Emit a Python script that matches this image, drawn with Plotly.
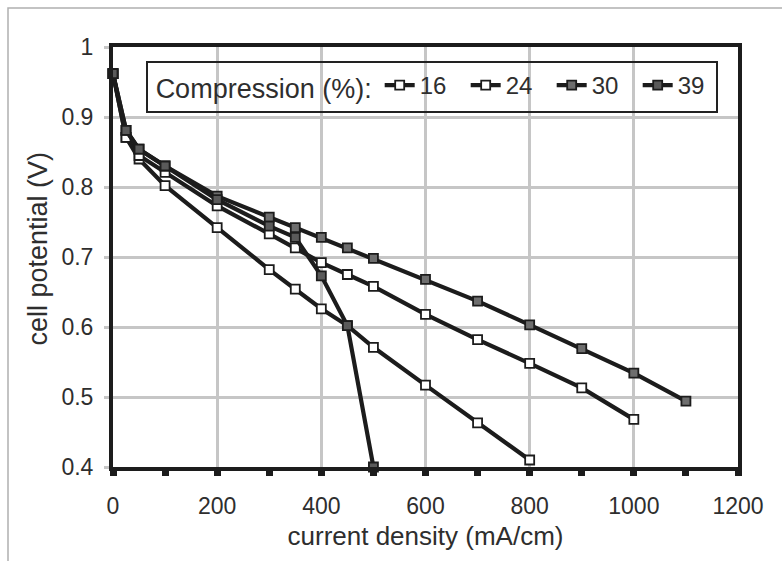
import plotly.graph_objects as go

# Current density (mA/cm) at which each cell potential was recorded
current_16 = [0, 25, 50, 100, 200, 300, 350, 400, 450, 500, 600, 700, 800]
potential_16 = [0.962, 0.871, 0.840, 0.802, 0.742, 0.682, 0.654, 0.626, 0.602, 0.571, 0.517, 0.463, 0.41]

current_24 = [0, 25, 50, 100, 200, 300, 350, 400, 450, 500, 600, 700, 800, 900, 1000]
potential_24 = [0.962, 0.871, 0.845, 0.821, 0.773, 0.733, 0.713, 0.692, 0.675, 0.658, 0.618, 0.582, 0.548, 0.513, 0.468]

current_30 = [0, 25, 50, 100, 200, 300, 350, 400, 450, 500, 600, 700, 800, 900, 1000, 1100]
potential_30 = [0.962, 0.881, 0.854, 0.830, 0.787, 0.757, 0.742, 0.728, 0.713, 0.698, 0.668, 0.637, 0.603, 0.569, 0.534, 0.494]

current_39 = [0, 25, 50, 100, 200, 300, 350, 400, 450, 500]
potential_39 = [0.962, 0.881, 0.854, 0.830, 0.782, 0.744, 0.728, 0.673, 0.602, 0.40]

compression_labels = ["16", "24", "30", "39"]
x_ticks = [0, 200, 400, 600, 800, 1000, 1200]
y_ticks = [0.4, 0.5, 0.6, 0.7, 0.8, 0.9, 1.0]
y_tick_text = ["0.4", "0.5", "0.6", "0.7", "0.8", "0.9", "1"]

LINE = "#1c1c1c"
TEXT = "#2e2e2e"
FONT = "Liberation Sans, Arial, sans-serif"

series = [
    (current_16, potential_16, "white"),
    (current_24, potential_24, "white"),
    (current_30, potential_30, "#6e6e6e"),
    (current_39, potential_39, "#5a5a5a"),
]

fig = go.Figure()
for (xs, ys, fill), name in zip(series, compression_labels):
    fig.add_trace(go.Scatter(
        x=xs, y=ys, name=name, mode="lines+markers",
        line=dict(color=LINE, width=4.2),
        marker=dict(symbol="square", size=9, color=fill,
                    line=dict(color=LINE, width=1.8)),
        cliponaxis=False,
    ))

fig.update_layout(
    width=782, height=561,
    margin=dict(l=113, r=44, t=47, b=94),
    paper_bgcolor="white", plot_bgcolor="white",
    font=dict(family=FONT, size=23, color=TEXT),
    showlegend=True,
    legend=dict(
        orientation="h", x=0.065, y=0.962, xanchor="left", yanchor="top",
        bgcolor="rgba(0,0,0,0)", borderwidth=0,
        title=dict(text="Compression (%):", side="left",
                   font=dict(size=27, color=TEXT)),
        font=dict(size=24, color=TEXT),
        itemwidth=30, tracegroupgap=0,
        entrywidth=41, entrywidthmode="pixels",
    ),
    shapes=[
        # legend frame
        dict(type="rect", xref="paper", yref="paper",
             x0=0.0544, x1=0.9664, y0=0.845, y1=0.964,
             line=dict(color="#222222", width=2), fillcolor="rgba(0,0,0,0)",
             layer="above"),
        # outer chart area border
        dict(type="rect", xref="paper", yref="paper",
             x0=-0.168, x1=1.2, y0=-0.4, y1=1.093,
             line=dict(color="#b0b0b0", width=1.5), fillcolor="rgba(0,0,0,0)",
             layer="below"),
    ],
    annotations=[
        dict(text="cell potential (V)", textangle=-90, showarrow=False,
             xref="paper", yref="paper", x=-0.12, y=0.52,
             xanchor="center", yanchor="middle",
             font=dict(size=27, color=TEXT)),
    ],
)

fig.update_xaxes(
    range=[0, 1200], tickvals=x_ticks, ticktext=[str(v) for v in x_ticks],
    tickfont=dict(size=23, color=TEXT),
    showgrid=True, gridcolor="#c6c6c6", gridwidth=3,
    showline=True, linecolor=LINE, linewidth=4, mirror=True,
    ticks="", ticklabelstandoff=15,
    minor=dict(dtick=100, tick0=0, ticks="outside", ticklen=5,
               tickwidth=7, tickcolor=LINE, showgrid=False),
    zeroline=False,
    title=dict(text="current density (mA/cm)", standoff=10,
               font=dict(size=26, color=TEXT)),
)
fig.update_yaxes(
    range=[0.4, 1.0], tickvals=y_ticks, ticktext=y_tick_text,
    tickfont=dict(size=23, color=TEXT),
    showgrid=True, gridcolor="#c6c6c6", gridwidth=3,
    showline=True, linecolor=LINE, linewidth=4, mirror=True,
    ticks="outside", ticklen=5, tickwidth=3, tickcolor="#c6c6c6",
    ticklabelstandoff=6,
    zeroline=False,
)

fig.write_html("out.html")
